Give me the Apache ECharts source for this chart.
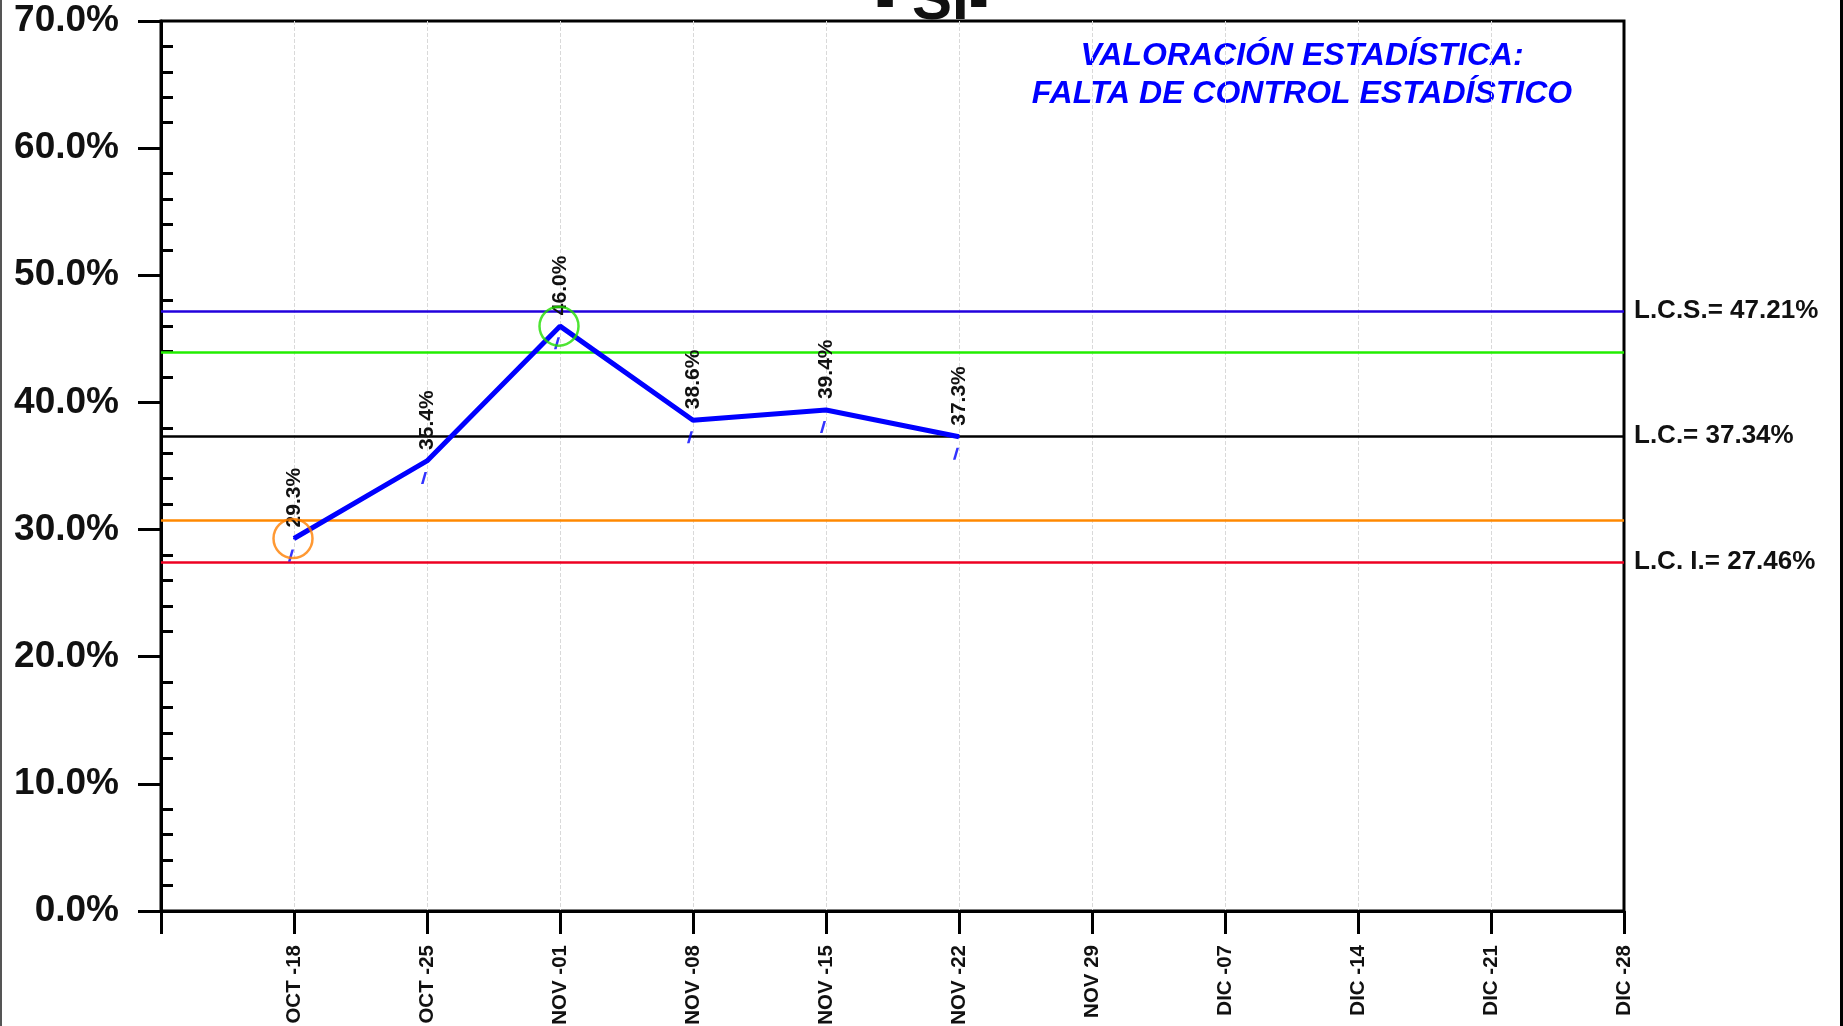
<!DOCTYPE html>
<html>
<head>
<meta charset="utf-8">
<title>- SI-</title>
<script src="https://cdn.jsdelivr.net/npm/echarts@6/dist/echarts.min.js"></script>
<style>
  html, body { margin: 0; padding: 0; background: #fff; }
  #chart { width: 1843px; height: 1026px; }
</style>
</head>
<body>
<div id="chart"></div>
<script>
// semanas (la primera posición queda vacía, es el borde del eje)
const categories = ['', 'OCT -18', 'OCT -25', 'NOV -01', 'NOV -08', 'NOV -15', 'NOV -22',
  'NOV 29', 'DIC -07', 'DIC -14', 'DIC -21', 'DIC -28']
const values = [null, 29.3, 35.4, 46.0, 38.6, 39.4, 37.3]

// límites de control
const lcs = 47.21
const lc = 37.34
const lci = 27.46
const warnHigh = 43.92
const warnLow = 30.76

// puntos marcados con círculo
const flaggedLow = ['OCT -18']
const flaggedHigh = ['NOV -01']

const FONT = '"Liberation Sans", Arial, sans-serif'

const el = document.getElementById('chart')
const chart = echarts.init(el)

const circles = values.map((v, i) => {
  if (flaggedLow.includes(categories[i])) return { value: v, itemStyle: { borderColor: '#ff8000' } }
  if (flaggedHigh.includes(categories[i])) return { value: v, itemStyle: { borderColor: '#22dd00' } }
  return null
})

function limitLine(value, color, text) {
  return {
    yAxis: value,
    lineStyle: { color, width: 2.5, type: 'solid' },
    label: text
      ? { show: true, formatter: text }
      : { show: false },
  }
}

chart.setOption({
  animation: false,
  textStyle: { fontFamily: FONT },
  grid: {
    left: 161, right: 219, top: 21, bottom: 115,
    show: true, borderColor: '#000', borderWidth: 3,
    outerBoundsMode: 'none',
  },
  xAxis: {
    type: 'category',
    data: categories,
    boundaryGap: false,
    axisLine: { lineStyle: { color: '#000', width: 3 } },
    axisTick: { show: true, interval: 0, length: 23, lineStyle: { color: '#000', width: 3 } },
    axisLabel: {
      interval: 0, rotate: 90, margin: 34,
      color: '#111', fontSize: 20.5, fontWeight: 'bold', fontFamily: FONT,
    },
    splitLine: {
      show: true,
      interval: (i) => i > 0 && i < categories.length - 1,
      lineStyle: { color: '#d9d9d9', width: 1, type: 'dashed' },
    },
  },
  yAxis: [
    {
      type: 'value', min: 0, max: 70, interval: 10,
      axisLine: { show: true, lineStyle: { color: '#000', width: 3 } },
      axisTick: { show: true, length: 23, lineStyle: { color: '#000', width: 3 } },
      axisLabel: {
        margin: 42, color: '#111', fontSize: 37, fontWeight: 'bold', fontFamily: FONT,
        formatter: (v) => v.toFixed(1) + '%',
      },
      splitLine: { show: false },
    },
    {
      type: 'value', min: 0, max: 70, interval: 10, position: 'left', offset: 0,
      axisLine: { show: false },
      axisTick: { show: false, inside: true },
      axisLabel: { show: false },
      minorTick: { show: true, splitNumber: 5, length: 12, lineStyle: { color: '#000', width: 3 } },
      splitLine: { show: false },
    },
  ],
  series: [
    {
      type: 'line',
      data: values,
      symbol: 'circle',
      symbolSize: 2,
      showSymbol: true,
      z: 5,
      itemStyle: { color: '#0000ff' },
      lineStyle: { color: '#0000ff', width: 5 },
      label: {
        show: true, position: 'top', rotate: 90, distance: 10,
        align: 'left', verticalAlign: 'middle',
        color: '#111', fontSize: 21, fontWeight: 'bold', fontFamily: FONT,
        formatter: (p) => p.value.toFixed(1) + '%',
      },
      markLine: {
        silent: true,
        symbol: 'none',
        z: 2,
        label: {
          position: 'end', distance: 10,
          color: '#111', fontSize: 26, fontWeight: 'bold', fontFamily: FONT,
        },
        data: [
          limitLine(lcs, '#2200dd', 'L.C.S.= ' + lcs.toFixed(2) + '%'),
          limitLine(warnHigh, '#22ee00'),
          limitLine(lc, '#000000', 'L.C.= ' + lc.toFixed(2) + '%'),
          limitLine(warnLow, '#ff8800'),
          limitLine(lci, '#ee0022', 'L.C. I.= ' + lci.toFixed(2) + '%'),
        ],
      },
    },
    {
      type: 'scatter',
      data: values,
      silent: true,
      z: 6,
      symbol: 'path://M4,0 L7,0 L3,12 L0,12 Z',
      symbolSize: [6, 12],
      symbolOffset: [-3, 17],
      itemStyle: { color: '#0000ff' },
    },
    {
      type: 'scatter',
      data: circles,
      silent: true,
      z: 7,
      symbol: 'circle',
      symbolSize: 39,
      symbolOffset: [-1, 0],
      itemStyle: { color: 'rgba(0,0,0,0)', borderWidth: 2.5 },
    },
  ],
  graphic: [
    { type: 'rect', shape: { x: 0, y: 0, width: 2, height: 1026 }, style: { fill: '#555' } },
    { type: 'rect', shape: { x: 1840, y: 0, width: 3, height: 1026 }, style: { fill: '#000' } },
    {
      type: 'text', x: 932, y: 2,
      style: { text: '- SI-', align: 'center', verticalAlign: 'middle', fill: '#111', font: 'bold 60px ' + FONT },
    },
    {
      type: 'text', x: 1302, y: 56,
      style: { text: 'VALORACIÓN ESTADÍSTICA:', align: 'center', verticalAlign: 'middle', fill: '#0000ff', font: 'italic bold 32px ' + FONT },
    },
    {
      type: 'text', x: 1302, y: 94,
      style: { text: 'FALTA DE CONTROL ESTADÍSTICO', align: 'center', verticalAlign: 'middle', fill: '#0000ff', font: 'italic bold 32px ' + FONT },
    },
  ],
})

window.addEventListener('resize', () => chart.resize())
</script>
</body>
</html>
